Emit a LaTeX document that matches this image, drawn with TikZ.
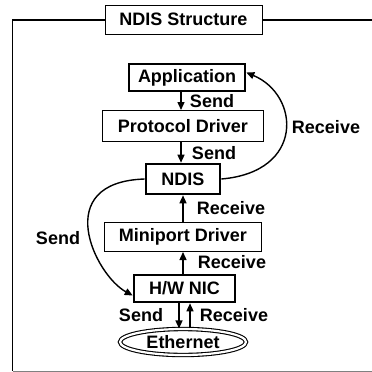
\documentclass[tikz,border=0pt]{standalone}
\usepackage{fontspec}
\setmainfont{Liberation Sans}
\usetikzlibrary{shapes.geometric,arrows.meta}
\begin{document}
\begin{tikzpicture}[x=1pt,y=-1pt,
  every node/.style={font=\fontsize{18}{21}\selectfont\bfseries, inner sep=0pt},
  thickbox/.style={draw, line width=2.6pt, fill=white},
  thinbox/.style={draw, line width=1pt, fill=white},
  arr/.style={line width=1.4pt, -{Triangle[length=8pt,width=7pt]}}
]
\useasboundingbox (0,0) rectangle (372,372);
% frame
\coordinate (ftl) at (12.5,20);
\coordinate (ftr) at (372,20);
\coordinate (fbl) at (12.5,371);
\coordinate (fbr) at (372,371);
\draw[line width=1.2pt] (ftr) -- (ftl) -- (fbl);
\draw[line width=1pt, gray] (fbl) -- (fbr);
\node[thinbox, minimum width=157pt, minimum height=29pt] (title) at (183.5,19.5) {NDIS Structure};

\node[thickbox, minimum width=116pt, minimum height=27pt] (app) at (187,77.5) {Application};
\node[thinbox, minimum width=161pt, minimum height=31pt] (proto) at (183,126) {Protocol Driver};
\node[thickbox, minimum width=74pt, minimum height=30pt] (ndis) at (183,179) {NDIS};
\node[thinbox, minimum width=157pt, minimum height=29pt] (mini) at (183,237) {Miniport Driver};
\node[thickbox, minimum width=101pt, minimum height=27pt] (nic) at (184.5,288.5) {H/W NIC};
\node[ellipse, draw, double, double distance=2.2pt, line width=1.1pt, minimum width=126pt, minimum height=26pt] (eth) at (183,342) {Ethernet};

% straight arrows
\draw[arr] (app.south -| 181,0) -- (proto.north -| 181,0);
\node (s1) at (212,101) {Send};
\draw[arr] (proto.south -| 181,0) -- (ndis.north -| 181,0);
\node (s2) at (214,153) {Send};
\draw[arr] (mini.north -| 183,0) -- (ndis.south -| 183,0);
\node (r2) at (231,208) {Receive};
\draw[arr] (nic.north -| 183,0) -- (mini.south -| 183,0);
\node (r3) at (232,262) {Receive};
\draw[arr] (nic.south -| 179,0) -- (eth.north -| 179,0);
\node (s4) at (141,315) {Send};
\draw[arr] (eth.north -| 190,0) -- (nic.south -| 190,0);
\node (r4) at (234,315) {Receive};

% curved arrows
\draw[arr] (ndis.east) .. controls (305,172) and (300,95) .. ([yshift=5pt]app.east);
\node (r1) at (326,127) {Receive};
\draw[arr] (ndis.west) .. controls (50,182) and (95,275) .. ([yshift=-7pt]nic.west);
\node (s3) at (58,238) {Send};
\end{tikzpicture}
\end{document}
